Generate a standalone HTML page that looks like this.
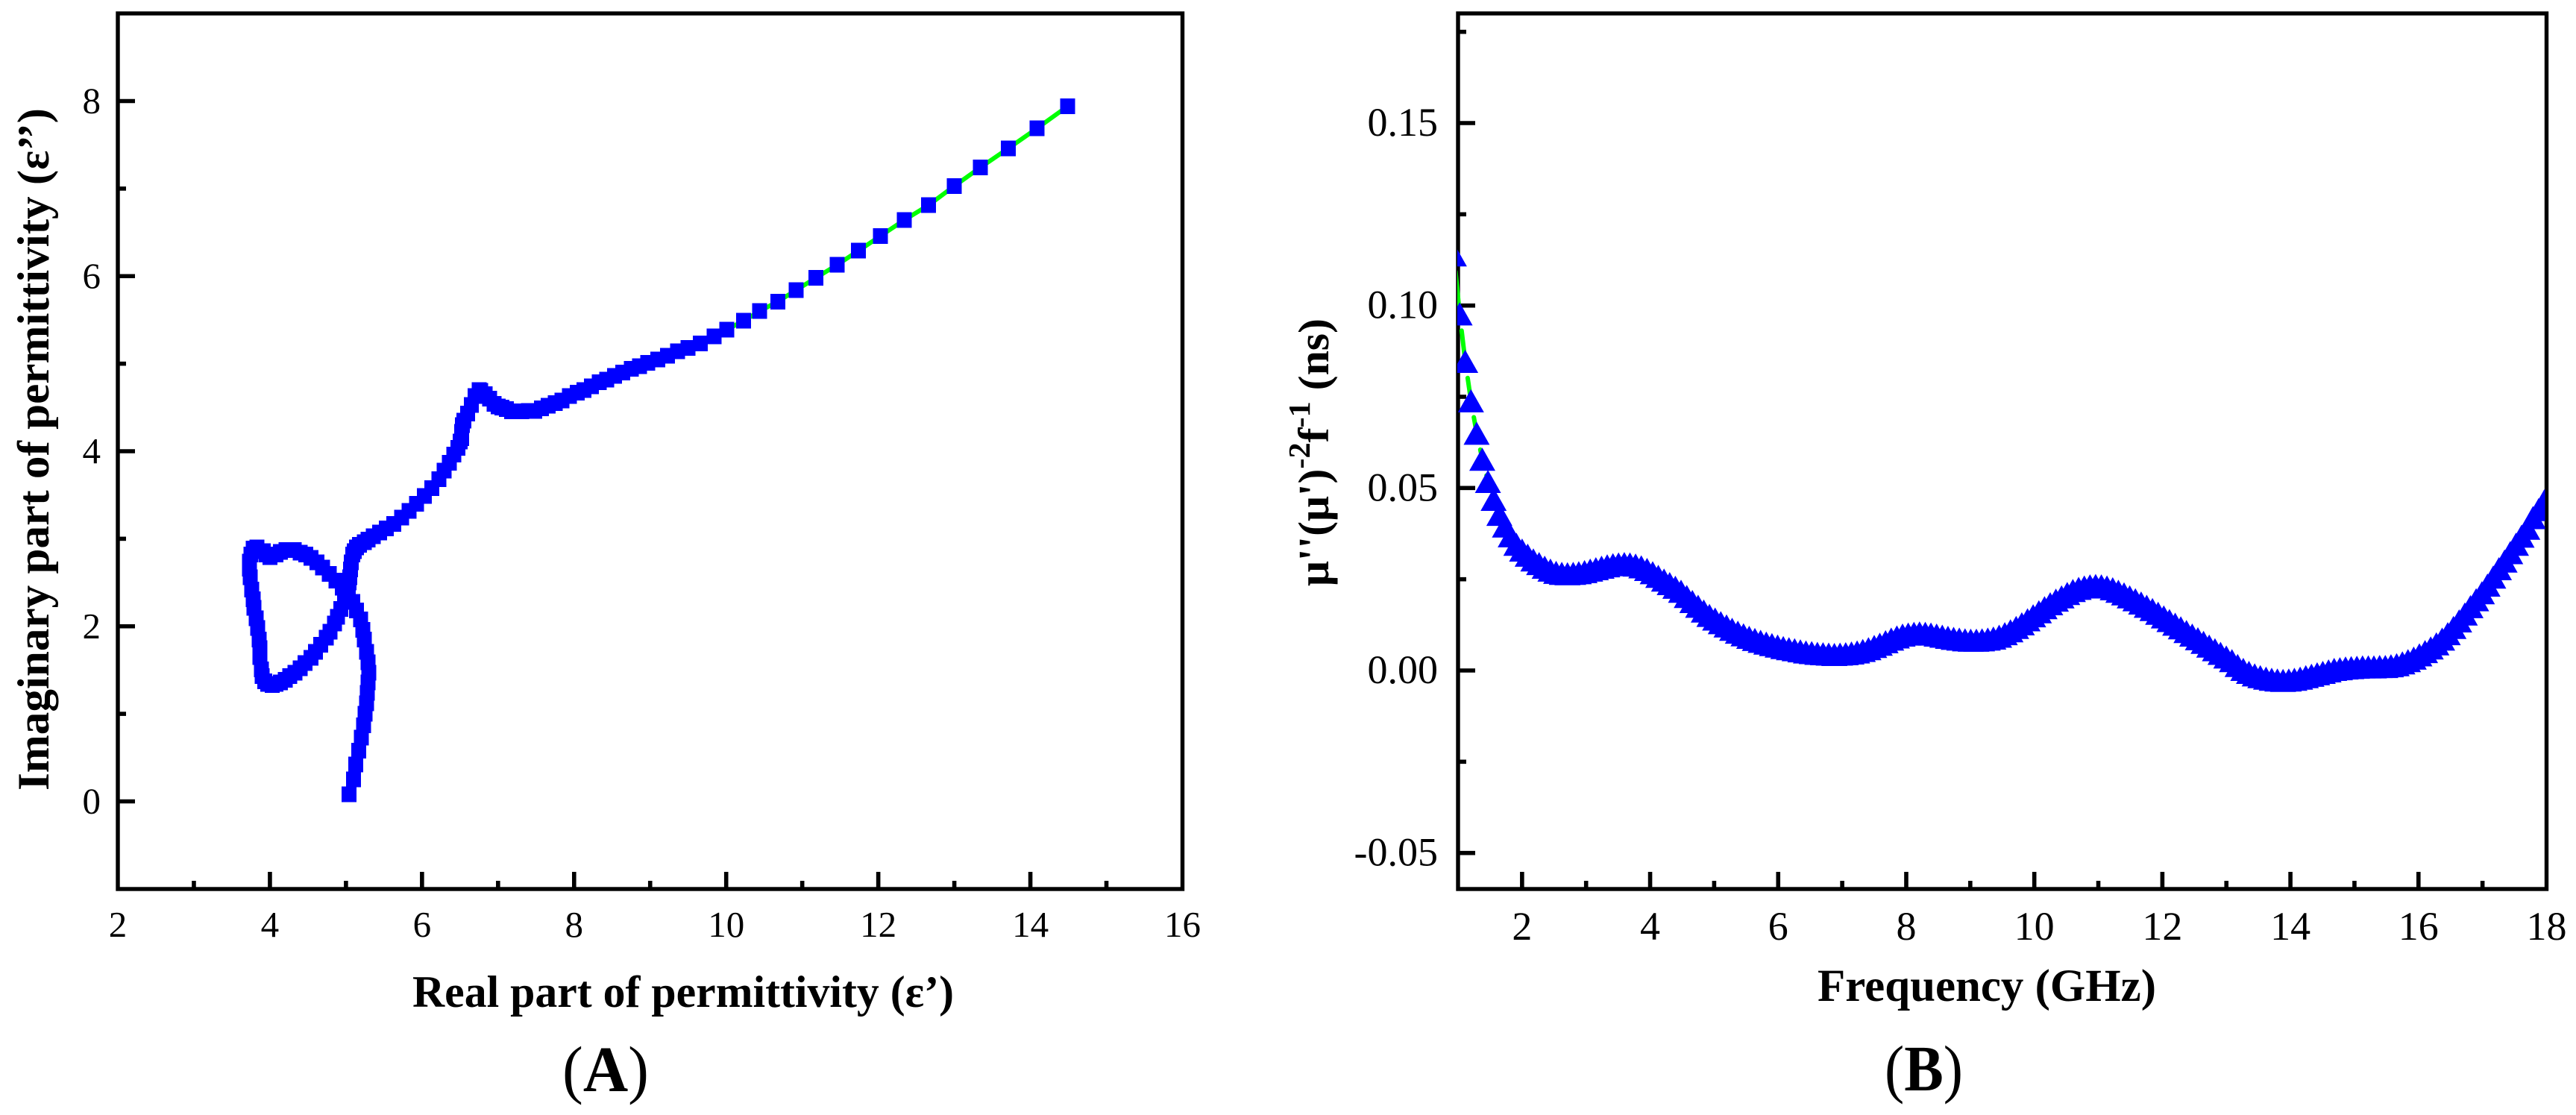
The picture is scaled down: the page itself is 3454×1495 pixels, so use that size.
<!DOCTYPE html>
<html lang="en">
<head>
<meta charset="utf-8">
<title>Permittivity Cole-Cole plot and eddy current curve</title>
<style>
html,body{margin:0;padding:0;background:#fff;}
svg{display:block;}
text{font-family:"Liberation Serif",serif;fill:#000;}
.b{font-weight:bold;}
</style>
</head>
<body>
<svg id="fig" xmlns="http://www.w3.org/2000/svg" width="3454" height="1495" viewBox="0 0 3454 1495">
<defs>
<clipPath id="clipA"><rect x="158" y="18" width="1426" height="1172"/></clipPath>
<clipPath id="clipB"><rect x="1954" y="18" width="1458.5" height="1172"/></clipPath>
</defs>
<rect x="0" y="0" width="3454" height="1495" fill="#fff"/>
<g id="panelA"></g>
<g id="panelB"></g>

<text class="b" x="553" y="1350" font-size="60" textLength="726" lengthAdjust="spacingAndGlyphs">Real part of permittivity (ε’)</text>
<text class="b" transform="translate(65 1060) rotate(-90)" x="0" y="0" font-size="60" textLength="915" lengthAdjust="spacingAndGlyphs">Imaginary part of permittivity (ε’’)</text>
<text x="754" y="1463" font-size="87" textLength="116" lengthAdjust="spacingAndGlyphs">(<tspan class="b">A</tspan>)</text>

<text class="b" x="2437" y="1342" font-size="61" textLength="454" lengthAdjust="spacingAndGlyphs">Frequency (GHz)</text>
<text class="b" transform="translate(1781 786) rotate(-90)" x="0" y="0" font-size="58" textLength="359" lengthAdjust="spacingAndGlyphs">μ''(μ')<tspan font-size="41" dy="-25">-2</tspan><tspan dy="25">f</tspan><tspan font-size="41" dy="-25">-1</tspan><tspan dy="25"> (ns)</tspan></text>
<text x="2527" y="1462" font-size="87" textLength="105" lengthAdjust="spacingAndGlyphs">(<tspan class="b">B</tspan>)</text>
</svg>

<script>
// Panel A: Cole-Cole plot values
const realPermittivity = [14.49,14.09,13.71,13.34,13.00,12.66,12.34,12.03,11.74,11.46,11.18,10.92,10.68,10.44,10.23,10.01,9.84,9.66,9.50,9.36,9.23,9.10,8.97,8.86,8.75,8.64,8.53,8.43,8.33,8.23,8.13,8.04,7.94,7.84,7.75,7.66,7.57,7.48,7.40,7.31,7.24,7.18,7.11,7.05,7.00,6.95,6.89,6.83,6.77,6.75,6.70,6.65,6.60,6.55,6.53,6.52,6.52,6.50,6.47,6.42,6.36,6.29,6.22,6.13,6.03,5.93,5.83,5.73,5.63,5.53,5.44,5.36,5.29,5.24,5.18,5.14,5.11,5.09,5.07,5.06,5.05,5.04,5.03,5.01,4.98,4.93,4.89,4.85,4.79,4.74,4.67,4.60,4.54,4.46,4.40,4.33,4.26,4.20,4.14,4.08,4.03,3.97,3.93,3.90,3.89,3.87,3.87,3.86,3.84,3.82,3.79,3.78,3.76,3.74,3.73,3.73,3.75,3.78,3.83,3.91,3.95,4.00,4.08,4.14,4.21,4.32,4.40,4.47,4.54,4.62,4.69,4.78,4.87,4.95,5.03,5.09,5.14,5.19,5.22,5.24,5.27,5.29,5.30,5.29,5.28,5.27,5.25,5.23,5.20,5.17,5.13,5.10,5.04];
const imagPermittivity = [7.94,7.69,7.46,7.24,7.03,6.81,6.64,6.46,6.29,6.13,5.98,5.84,5.71,5.60,5.49,5.39,5.31,5.23,5.18,5.14,5.09,5.05,5.01,4.97,4.94,4.90,4.86,4.82,4.79,4.74,4.70,4.67,4.63,4.58,4.55,4.52,4.49,4.46,4.46,4.455,4.455,4.455,4.48,4.50,4.51,4.54,4.60,4.65,4.69,4.70,4.63,4.53,4.43,4.35,4.30,4.22,4.15,4.11,4.04,3.96,3.87,3.78,3.68,3.58,3.49,3.40,3.32,3.24,3.17,3.12,3.07,3.03,2.99,2.96,2.93,2.90,2.86,2.82,2.73,2.65,2.56,2.50,2.42,2.34,2.28,2.20,2.11,2.03,1.94,1.87,1.79,1.71,1.64,1.58,1.52,1.47,1.43,1.39,1.36,1.34,1.33,1.34,1.37,1.43,1.51,1.65,1.75,1.85,1.98,2.09,2.21,2.31,2.42,2.56,2.66,2.74,2.82,2.89,2.90,2.86,2.82,2.79,2.82,2.85,2.87,2.87,2.84,2.82,2.78,2.73,2.67,2.60,2.52,2.44,2.36,2.28,2.18,2.08,1.96,1.85,1.71,1.59,1.47,1.36,1.24,1.12,1.00,0.87,0.73,0.58,0.42,0.25,0.08];
const aXTickValues = [2,3,4,5,6,7,8,9,10,11,12,13,14,15,16];
const aXTickLabels = ["2","","4","","6","","8","","10","","12","","14","","16"];
const aYTickValues = [0,1,2,3,4,5,6,7,8];
const aYTickLabels = ["0","","2","","4","","6","","8"];

// Panel B: eddy current curve values
const frequencyGHz = [0.935,1.024,1.112,1.201,1.290,1.379,1.467,1.556,1.645,1.733,1.822,1.911,2.000,2.088,2.177,2.266,2.354,2.443,2.532,2.620,2.709,2.798,2.886,2.975,3.064,3.153,3.241,3.330,3.419,3.507,3.596,3.685,3.773,3.862,3.951,4.040,4.128,4.217,4.306,4.394,4.483,4.572,4.660,4.749,4.838,4.927,5.015,5.104,5.193,5.281,5.370,5.459,5.547,5.636,5.725,5.814,5.902,5.991,6.080,6.168,6.257,6.346,6.434,6.523,6.612,6.700,6.789,6.878,6.966,7.055,7.144,7.233,7.321,7.410,7.499,7.587,7.676,7.765,7.853,7.942,8.031,8.120,8.208,8.297,8.386,8.474,8.563,8.652,8.740,8.829,8.918,9.007,9.095,9.184,9.273,9.361,9.450,9.539,9.627,9.716,9.805,9.894,9.982,10.071,10.160,10.248,10.337,10.426,10.514,10.603,10.692,10.781,10.869,10.958,11.047,11.135,11.224,11.313,11.401,11.490,11.579,11.668,11.756,11.845,11.934,12.022,12.111,12.200,12.288,12.377,12.466,12.555,12.643,12.732,12.821,12.909,12.998,13.087,13.175,13.264,13.353,13.442,13.530,13.619,13.708,13.796,13.885,13.974,14.062,14.151,14.240,14.329,14.417,14.506,14.595,14.683,14.772,14.861,14.949,15.038,15.127,15.216,15.304,15.393,15.482,15.570,15.659,15.748,15.836,15.925,16.014,16.103,16.191,16.280,16.369,16.457,16.546,16.635,16.723,16.812,16.901,16.990,17.078,17.167,17.256,17.344,17.433,17.522,17.610,17.699,17.788,17.877,17.965,18.054];
const eddyCurrentNs = [0.1140,0.0978,0.0848,0.0740,0.0651,0.0580,0.0519,0.0470,0.0429,0.0397,0.0370,0.0347,0.0331,0.0317,0.0304,0.0294,0.0284,0.0276,0.0270,0.0267,0.0266,0.0267,0.0269,0.0272,0.0276,0.0280,0.0284,0.0288,0.0291,0.0293,0.0294,0.0293,0.0290,0.0285,0.0278,0.0269,0.0259,0.0249,0.0239,0.0229,0.0218,0.0204,0.0190,0.0177,0.0164,0.0152,0.0142,0.0132,0.0123,0.0114,0.0106,0.0099,0.0092,0.0086,0.0081,0.0076,0.0072,0.0068,0.0064,0.0061,0.0058,0.0055,0.0052,0.0050,0.0048,0.0047,0.0046,0.0045,0.0046,0.0047,0.0049,0.0052,0.0056,0.0061,0.0067,0.0073,0.0080,0.0087,0.0093,0.0098,0.0101,0.0103,0.0104,0.0103,0.0101,0.0098,0.0095,0.0092,0.0089,0.0087,0.0085,0.0084,0.0084,0.0085,0.0087,0.0090,0.0095,0.0102,0.0110,0.0119,0.0129,0.0140,0.0151,0.0162,0.0173,0.0184,0.0194,0.0203,0.0212,0.0220,0.0226,0.0230,0.0233,0.0234,0.0233,0.0230,0.0225,0.0218,0.0211,0.0203,0.0195,0.0186,0.0177,0.0168,0.0158,0.0148,0.0138,0.0128,0.0118,0.0108,0.0098,0.0088,0.0078,0.0068,0.0058,0.0048,0.0038,0.0028,0.0015,0.0004,-0.0004,-0.0011,-0.0016,-0.0020,-0.0023,-0.0025,-0.0026,-0.0025,-0.0023,-0.0020,-0.0016,-0.0012,-0.0008,-0.0004,0.0000,0.0004,0.0006,0.0008,0.0009,0.0010,0.0011,0.0011,0.0011,0.0012,0.0012,0.0014,0.0017,0.0022,0.0028,0.0035,0.0044,0.0053,0.0063,0.0074,0.0087,0.0102,0.0119,0.0137,0.0156,0.0176,0.0195,0.0214,0.0235,0.0257,0.0280,0.0301,0.0324,0.0347,0.0369,0.0391,0.0420,0.0442,0.0466,0.0490];
const bXTickValues = [2,3,4,5,6,7,8,9,10,11,12,13,14,15,16,17,18];
const bXTickLabels = ["2","","4","","6","","8","","10","","12","","14","","16","","18"];
const bYTickValues = [-0.05,-0.025,0,0.025,0.05,0.075,0.1,0.125,0.15,0.175];
const bYTickLabels = ["-0.05","","0.00","","0.05","","0.10","","0.15",""];

const NS = "http://www.w3.org/2000/svg";
const LINE_GREEN = "#00ff00";
const MARK_BLUE = "#0000ff";

function linear(d0, d1, r0, r1) {
  return function (v) { return r0 + (v - d0) * (r1 - r0) / (d1 - d0); };
}
const axA = linear(2, 16, 158, 1585.5);
const ayA = linear(0, 8, 1074.5, 135.5);
const axB = linear(1, 18, 1955, 3414.5);
const ayB = linear(0, 0.15, 899, 165);

function make(tag, parent, attrs) {
  const el = document.createElementNS(NS, tag);
  for (const k in attrs) el.setAttribute(k, attrs[k]);
  parent.appendChild(el);
  return el;
}

function drawFrame(parent, left, top, right, bottom, xScale, yScale, xVals, xLabels, yVals, yLabels, fontSize, xBase, yEnd, yOffset) {
  const frame = make("rect", parent, {x:left, y:top, width:right-left, height:bottom-top, fill:"none", stroke:"#000", "stroke-width":5.4});
  
  
  xVals.forEach(function (v, i) {
    const x = xScale(v);
    const major = xLabels[i] !== "";
    if (x > left + 1 && x < right - 1) {
      const t = make("line", parent, {x1:x, x2:x, y1:bottom, y2:bottom-(major?23:11), stroke:"#000", "stroke-width":5.6});
      
      
    }
    if (major) {
      const l = make("text", parent, {x:x, y:xBase, "font-size":fontSize, "text-anchor":"middle"});
      l.textContent = xLabels[i];
      
      
    }
  });
  yVals.forEach(function (v, i) {
    const y = yScale(v);
    const major = yLabels[i] !== "";
    const t = make("line", parent, {x1:left, x2:left+(major?23:11), y1:y, y2:y, stroke:"#000", "stroke-width":5.6});
    
    
    if (major) {
      const l = make("text", parent, {x:yEnd, y:y+yOffset, "font-size":fontSize, "text-anchor":"end"});
      l.textContent = yLabels[i];
      
      
    }
  });
}

const panelA = document.getElementById("panelA");
drawFrame(panelA, 158, 18, 1585.5, 1192, axA, ayA, aXTickValues, aXTickLabels, aYTickValues, aYTickLabels, 49, 1256, 135, 16);
const seriesA = make("g", panelA, {"clip-path":"url(#clipA)"});


const lineA = make("polyline", seriesA, {
  points: realPermittivity.map(function (v, i) { return axA(v).toFixed(1) + "," + ayA(imagPermittivity[i]).toFixed(1); }).join(" "),
  fill:"none", stroke:LINE_GREEN, "stroke-width":6
});


realPermittivity.forEach(function (v, i) {
  const s = make("rect", seriesA, {x:(axA(v)-10).toFixed(1), y:(ayA(imagPermittivity[i])-10.5).toFixed(1), width:20, height:21, fill:MARK_BLUE, "shape-rendering":"crispEdges"});
  
  
});

const panelB = document.getElementById("panelB");
drawFrame(panelB, 1955, 18, 3414.5, 1192, axB, ayB, bXTickValues, bXTickLabels, bYTickValues, bYTickLabels, 54, 1260, 1928, 17);
const seriesB = make("g", panelB, {"clip-path":"url(#clipB)"});


// The line leaves a gap below each symbol, so each segment starts past the marker base.
const SYMBOL_GAP = 23;
let segmentPath = "";
for (let i = 0; i + 1 < frequencyGHz.length; i++) {
  const x0 = axB(frequencyGHz[i]);
  const y0 = ayB(eddyCurrentNs[i]);
  const x1 = axB(frequencyGHz[i + 1]);
  const y1 = ayB(eddyCurrentNs[i + 1]);
  const len = Math.hypot(x1 - x0, y1 - y0);
  if (len > SYMBOL_GAP) {
    const t = SYMBOL_GAP / len;
    segmentPath += "M" + (x0 + (x1 - x0) * t).toFixed(1) + " " + (y0 + (y1 - y0) * t).toFixed(1) + "L" + x1.toFixed(1) + " " + y1.toFixed(1);
  }
}
const lineB = make("path", seriesB, {d:segmentPath, fill:"none", stroke:LINE_GREEN, "stroke-width":6, "stroke-linecap":"round"});


frequencyGHz.forEach(function (v, i) {
  const cx = axB(v);
  const cy = ayB(eddyCurrentNs[i]);
  const pts = cx.toFixed(1) + "," + (cy-15).toFixed(1) + " " + (cx+17.5).toFixed(1) + "," + (cy+16).toFixed(1) + " " + (cx-17.5).toFixed(1) + "," + (cy+16).toFixed(1);
  const t = make("polygon", seriesB, {points:pts, fill:MARK_BLUE});
  
  
});
</script>
</body>
</html>
